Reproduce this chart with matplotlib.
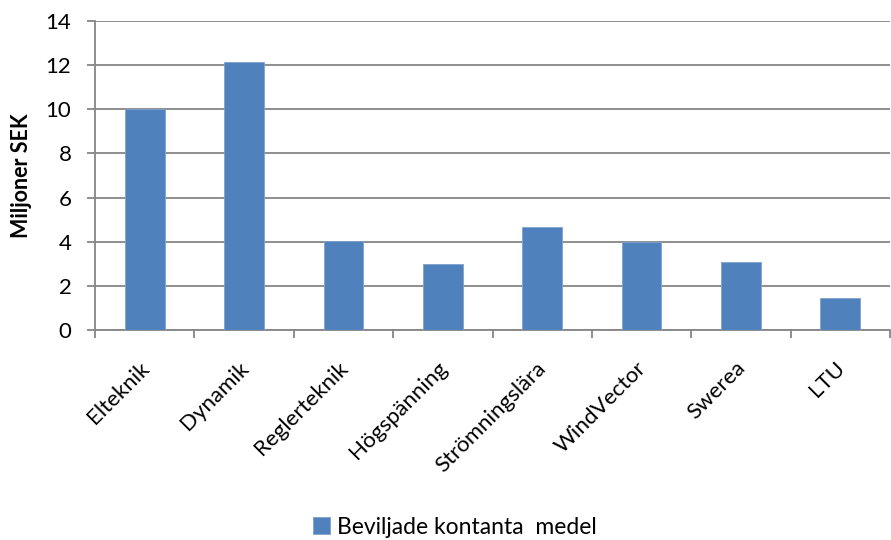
import matplotlib
matplotlib.use("Agg")
import matplotlib.pyplot as plt
import matplotlib.transforms as mtransforms
import numpy as np

categories = ["Elteknik", "Dynamik", "Reglerteknik", "Högspänning",
              "Strömningslära", "WindVector", "Swerea", "LTU"]
values = [10.0, 12.15, 4.05, 2.97, 4.68, 3.97, 3.06, 1.43]
series_name = "Beviljade kontanta  medel"
yticks = [0, 2, 4, 6, 8, 10, 12, 14]

plt.rcParams['font.family'] = ['Lato', 'DejaVu Sans']

fig = plt.figure(figsize=(8.91, 5.40), dpi=100)
ax = fig.add_axes([95/891, 1-330/540, 795/891, 309/540])

x = np.arange(len(categories))
bars = ax.bar(x, values, width=0.4, color="#4F81BD", edgecolor="#7FA3D0",
              linewidth=0.6, label=series_name, zorder=3)

ax.set_xlim(-0.5, len(categories) - 0.5)
ax.set_ylim(0, 14)
ax.set_yticks(yticks)
ax.set_yticklabels([str(v) for v in yticks], fontsize=16)
ax.yaxis.grid(True, color="#868686", linewidth=1.3, zorder=0)
ax.set_axisbelow(True)

ax.set_xticks(x)
ax.set_xticklabels(categories, fontsize=16, rotation=45, ha='right',
                   va='top', rotation_mode='anchor')
ax.tick_params(axis='x', which='major', length=0, pad=20)
offset = mtransforms.ScaledTranslation(-6/100, 0, fig.dpi_scale_trans)
for lab in ax.get_xticklabels():
    lab.set_transform(lab.get_transform() + offset)
ax.set_xticks(np.arange(-0.5, len(categories) + 0.5, 1), minor=True)
ax.tick_params(axis='x', which='minor', length=6, width=1.3, color="#868686")
ax.tick_params(axis='y', length=6, width=1.3, color="#868686", pad=11)

for s in ['top', 'right']:
    ax.spines[s].set_visible(False)
for s in ['left', 'bottom']:
    ax.spines[s].set_color("#868686")
    ax.spines[s].set_linewidth(1.3)

ax.set_ylabel("Miljoner SEK", fontsize=15.5, fontweight='bold', labelpad=10)

fig.legend(handles=[bars], labels=[series_name], loc='center',
           bbox_to_anchor=(455/891, 1-527/540), frameon=False, fontsize=16.5,
           handlelength=0.75, handleheight=0.75, handletextpad=0.3)

fig.savefig("out.png", dpi=100)
